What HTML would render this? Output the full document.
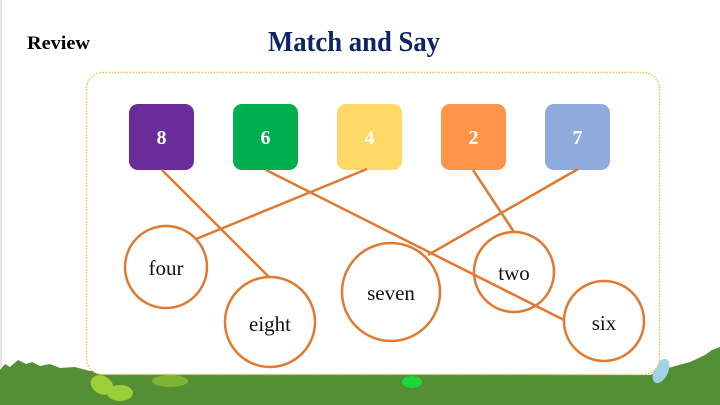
<!DOCTYPE html>
<html><head><meta charset="utf-8"><style>
html,body{margin:0;padding:0;background:#fff;width:720px;height:405px;overflow:hidden}
svg{display:block}
</style></head><body>
<svg width="720" height="405" viewBox="0 0 720 405" xmlns="http://www.w3.org/2000/svg">
<rect x="0" y="0" width="720" height="405" fill="#fff"/>
<rect x="0" y="0" width="2" height="405" fill="#e6e6e6"/>
<path d="M0 370 L5 364 L10 367 L18 360 L26 364 L32 362 L40 366 L50 364 L60 368 L75 367 L90 371 L150 373 L650 375 L668 368 L690 362 L705 355 L712 350 L720 347 L720 405 L0 405 Z" fill="#548f35"/>
<ellipse cx="102" cy="385" rx="12" ry="9" fill="#9ccd3a" transform="rotate(30 102 385)"/>
<ellipse cx="120" cy="393" rx="13" ry="8" fill="#9ccd3a"/>
<ellipse cx="170" cy="381" rx="18" ry="6" fill="#7fb432"/>
<ellipse cx="412" cy="382" rx="10" ry="6" fill="#1dd63a"/>
<ellipse cx="661" cy="371" rx="7" ry="13" fill="#9fd3ea" transform="rotate(25 661 371)"/>
<rect x="86.5" y="72.5" width="573" height="302" rx="16" fill="#fff" stroke="#f2c347" stroke-width="1.4" stroke-dasharray="1.5 1.5"/>
<text x="27" y="49" font-family="Liberation Serif, serif" font-weight="bold" font-size="19" fill="#000" textLength="63" lengthAdjust="spacingAndGlyphs">Review</text>
<text x="268" y="51" font-family="Liberation Serif, serif" font-weight="bold" font-size="28" fill="#0d2565" textLength="172" lengthAdjust="spacingAndGlyphs">Match and Say</text>
<g font-family="Liberation Serif, serif" font-weight="bold" font-size="20" fill="#fff" text-anchor="middle">
<rect x="129" y="104" width="65" height="66" rx="9" fill="#6a2c9a"/><text x="161.5" y="144">8</text>
<rect x="233" y="104" width="65" height="66" rx="9" fill="#00ad4f"/><text x="265.5" y="144">6</text>
<rect x="337" y="104" width="65" height="66" rx="9" fill="#ffd966"/><text x="369.5" y="144">4</text>
<rect x="441" y="104" width="65" height="66" rx="9" fill="#ff9448"/><text x="473.5" y="144">2</text>
<rect x="545" y="104" width="65" height="66" rx="9" fill="#8faadc"/><text x="577.5" y="144">7</text>
</g>
<g stroke="#e07a30" stroke-width="2.5" fill="none">
<line x1="162" y1="170" x2="269" y2="277"/>
<line x1="266" y1="170" x2="564" y2="320"/>
<line x1="367" y1="169" x2="196" y2="239"/>
<line x1="473" y1="170" x2="514" y2="232"/>
<line x1="578" y1="169" x2="428" y2="255"/>
<circle cx="166" cy="267" r="41"/>
<circle cx="270" cy="322" r="45"/>
<circle cx="391" cy="292" r="49"/>
<circle cx="514" cy="272" r="40"/>
<circle cx="604" cy="321" r="40"/>
</g>
<g font-family="Liberation Serif, serif" font-size="21" fill="#111" text-anchor="middle">
<text x="166" y="275">four</text>
<text x="270" y="331">eight</text>
<text x="391" y="300">seven</text>
<text x="514" y="280">two</text>
<text x="604" y="330">six</text>
</g>
</svg>
</body></html>
